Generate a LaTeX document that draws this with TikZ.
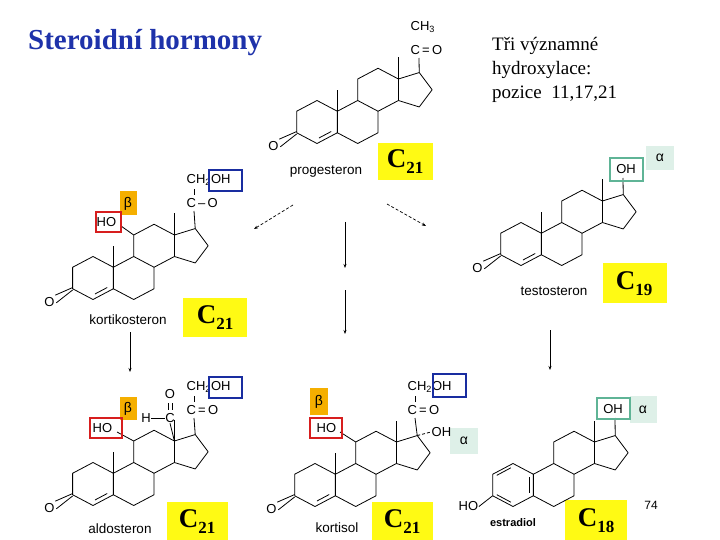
\documentclass[tikz,border=0pt]{standalone}
\usepackage{fontspec}
\setmainfont{Liberation Serif}
\setsansfont{Liberation Sans}
\usetikzlibrary{arrows.meta}
\definecolor{ttl}{RGB}{30,50,170}
\definecolor{redb}{RGB}{215,30,30}
\definecolor{blueb}{RGB}{25,45,160}
\definecolor{tealb}{RGB}{95,180,150}
\definecolor{mint}{RGB}{222,240,232}
\definecolor{orng}{RGB}{245,175,0}
\definecolor{yel}{RGB}{255,250,20}
\tikzset{
 bond/.style={line width=0.8pt,line join=round},
 sub/.style={font=\sffamily\fontsize{13}{13}\selectfont,inner sep=0.5pt},
 lbl/.style={font=\sffamily\fontsize{13.5}{13.5}\selectfont,inner sep=0pt},
 arr/.style={line width=0.7pt,-{Stealth[length=4pt,width=3pt]}},
 darr/.style={arr,densely dashed},
 yb/.style={fill=yel,draw=none},
 redbox/.style={draw=redb,line width=2.2pt},
 bluebox/.style={draw=blueb,line width=2.2pt},
 tealbox/.style={draw=tealb,line width=2.2pt},
 greek/.style={font=\sffamily\fontsize{14}{14}\selectfont},
}
\newcommand\bigC[3]{\node[font=\fontsize{27}{27}\selectfont\bfseries,inner sep=0pt] (#3) at (#1) {C\raisebox{-6pt}{\fontsize{17}{17}\selectfont #2}};}
% skeleton: #1 x, #2 y, #3 prefix, #4 = 1 for keto ring A, 0 for aromatic
\newcommand\skel[4]{%
\begin{scope}[shift={(#1,#2)},x=23.5pt,y=21.5pt]
 \coordinate (#3-1) at (0,1); \coordinate (#3-2) at (-0.866,0.5);
 \coordinate (#3-3) at (-0.866,-0.5); \coordinate (#3-4) at (0,-1);
 \coordinate (#3-5) at (0.866,-0.5); \coordinate (#3-10) at (0.866,0.5);
 \coordinate (#3-6) at (1.732,-1); \coordinate (#3-7) at (2.598,-0.5);
 \coordinate (#3-8) at (2.598,0.5); \coordinate (#3-9) at (1.732,1);
 \coordinate (#3-11) at (1.732,2); \coordinate (#3-12) at (2.598,2.5);
 \coordinate (#3-13) at (3.464,2); \coordinate (#3-14) at (3.464,1);
 \coordinate (#3-15) at (4.35,0.7); \coordinate (#3-16) at (4.9,1.5);
 \coordinate (#3-17) at (4.35,2.3);
 \draw[bond] (#3-1)--(#3-2)--(#3-3)--(#3-4)--(#3-5)--(#3-10)--cycle;
 \draw[bond] (#3-5)--(#3-6)--(#3-7)--(#3-8)--(#3-9)--(#3-10);
 \draw[bond] (#3-9)--(#3-11)--(#3-12)--(#3-13)--(#3-14)--(#3-8);
 \draw[bond] (#3-13)--(#3-17)--(#3-16)--(#3-15)--(#3-14);
 \draw[bond] (#3-13)--(3.464,3);
 \ifnum#4=1
  \draw[bond] (#3-10)--(0.866,1.5);
  \draw[bond] (0.083,-0.744)--(0.603,-0.444);
  \node[sub] (#3-O) at (-1.85,-1.1) {O};
  \draw[bond] ([yshift=1.2pt]#3-3)--([yshift=1.2pt]#3-O.north east);
  \draw[bond] ([yshift=-1.2pt]#3-3)--([xshift=1pt,yshift=-1.2pt]#3-O.east);
 \else
  \draw[bond] (-0.69,0.45)--(-0.09,0.8);
  \draw[bond] (-0.69,-0.45)--(-0.09,-0.8);
  \draw[bond] (0.70,-0.35)--(0.70,0.35);
  \node[sub,anchor=east] (#3-O) at (-1.45,-1.0) {HO};
  \draw[bond] (#3-3)--(#3-O.east);
 \fi
\end{scope}}
\begin{document}
\begin{tikzpicture}[x=1pt,y=-1pt]
\useasboundingbox (0,0) rectangle (720,540);
% title
\node[anchor=west,font=\bfseries\fontsize{29}{29}\selectfont,text=ttl,inner sep=0] (title) at (28,43) {Steroidní hormony};
\node[anchor=north west,align=left,font=\fontsize{19}{24}\selectfont,inner sep=0] (note) at (492,37) {Tři významné\\ hydroxylace:\\ pozice~ 11,17,21};
% yellow boxes
\fill[yb] (378,143) rectangle (433,180);
\fill[yb] (183,298) rectangle (247,337);
\fill[yb] (603,263) rectangle (667,303);
\fill[yb] (167,502) rectangle (228,540);
\fill[yb] (372,502) rectangle (433,540);
\fill[yb] (565,500) rectangle (627,540);
\bigC{405,162}{21}{cp}
\bigC{215,318}{21}{ck}
\bigC{634,284}{19}{ct}
\bigC{197,522}{21}{ca}
\bigC{402,522}{21}{cc}
\bigC{596,521}{18}{ce}
% greek boxes
\fill[mint] (646,146) rectangle (674,170); \node[greek] (a1) at (660,158) {α};
\fill[mint] (450,428) rectangle (478,454); \node[greek] (a2) at (464,441) {α};
\fill[mint] (630,396) rectangle (657,423); \node[greek] (a3) at (643,410) {α};
\fill[orng] (120,191) rectangle (137,215); \node[greek] (b1) at (128,204) {β};
\fill[orng] (120,397) rectangle (137,420); \node[greek] (b2) at (128,409) {β};
\fill[orng] (310,388) rectangle (328,415); \node[greek] (b3) at (319,402) {β};
% skeletons
\skel{317}{122}{P}{1}
\skel{93}{278}{K}{1}
\skel{521}{244}{T}{1}
\skel{93}{484}{A}{1}
\skel{315}{485}{S}{1}
\skel{513}{485}{E}{0}
% progesterone side chain
\node[sub,anchor=west] (pco) at (410,50) {C{\,=\,}O};
\node[sub,anchor=west] (pch) at (410,27) {CH\textsubscript{3}};
\draw[bond] (P-17)--(419,58);
% kortikosteron
\node[sub,anchor=west] (kco) at (186,203) {C\,--\,O};
\node[sub,anchor=west] (kch) at (186,180) {CH\textsubscript{2}OH};
\draw[bond] (K-17)--(194,211);
\draw[bond] (194,195)--(194,189);
\draw[bluebox] (209,170) rectangle (242,191);
\node[sub,anchor=west] (kho) at (96,222) {HO};
\draw[bond] (K-11)--(121,226);
\draw[redbox] (96,212) rectangle (121,232);
% testosteron
\node[sub] (toh) at (626,169) {OH};
\draw[bond] (T-17)--(623,178);
\draw[tealbox] (610,158) rectangle (643,181);
% aldosteron
\node[sub,anchor=west] (aco) at (186,410) {C{\,=\,}O};
\node[sub,anchor=west] (ach) at (186,387) {CH\textsubscript{2}OH};
\draw[bond] (A-17)--(194,418);
\draw[bond] (194,402)--(194,396);
\draw[bluebox] (209,377) rectangle (242,398);
\node[sub] (ahc) at (170,418) {C};
\node[sub] (aho) at (170,394) {O};
\node[sub] (ah) at (146,418) {H};
\draw[bond] (ah.east)--(ahc.west);
\draw[bond] (168,403)--(168,410); \draw[bond] (172,403)--(172,410);
\draw[bond] (A-13)--(ahc.south);
\node[sub,anchor=west] (aho2) at (92,428) {HO};
\draw[bond] (A-11)--(117,432);
\draw[redbox] (90,418) rectangle (122,438);
% kortisol
\node[sub,anchor=west] (sco) at (407,410) {C{\,=\,}O};
\node[sub,anchor=west] (sch) at (407,387) {CH\textsubscript{2}OH};
\draw[bond] (S-17)--(415,418);
\draw[bond] (415,402)--(415,396);
\draw[bluebox] (433,374) rectangle (466,397);
\node[sub,anchor=west] (soh) at (431,432) {OH};
\draw[bond,densely dashed] (S-17)--(soh.west);
\node[sub,anchor=west] (sho) at (316,428) {HO};
\draw[bond] (S-11)--(340,432);
\draw[redbox] (310,418) rectangle (342,438);
% estradiol
\node[sub] (eoh) at (613,409) {OH};
\draw[bond] (E-17)--(615,418);
\draw[tealbox] (597,398) rectangle (630,419);
% labels
\node[lbl] (lp) at (326,172) {progesteron};
\node[lbl] (lk) at (128,320) {kortikosteron};
\node[lbl] (lt) at (554,291) {testosteron};
\node[lbl] (la) at (120,529) {aldosteron};
\node[lbl] (ls) at (337,528) {kortisol};
\node[font=\sffamily\bfseries\fontsize{11}{11}\selectfont] (le) at (513,523) {estradiol};
\node[font=\sffamily\fontsize{12}{12}\selectfont] (pg) at (651,505) {74};
% arrows
\coordinate (d1) at (293,205); \coordinate (d1e) at (254,229);
\coordinate (d2) at (387,204); \coordinate (d2e) at (426,226);
\coordinate (v1) at (345,222); \coordinate (v1e) at (345,268);
\coordinate (v2) at (345,290); \coordinate (v2e) at (345,334);
\coordinate (v3) at (130,332); \coordinate (v3e) at (130,372);
\coordinate (v4) at (550,330); \coordinate (v4e) at (550,370);
\draw[darr] (d1)--(d1e);
\draw[darr] (d2)--(d2e);
\draw[arr] (v1)--(v1e);
\draw[arr] (v2)--(v2e);
\draw[arr] (v3)--(v3e);
\draw[arr] (v4)--(v4e);
\end{tikzpicture}
\end{document}
